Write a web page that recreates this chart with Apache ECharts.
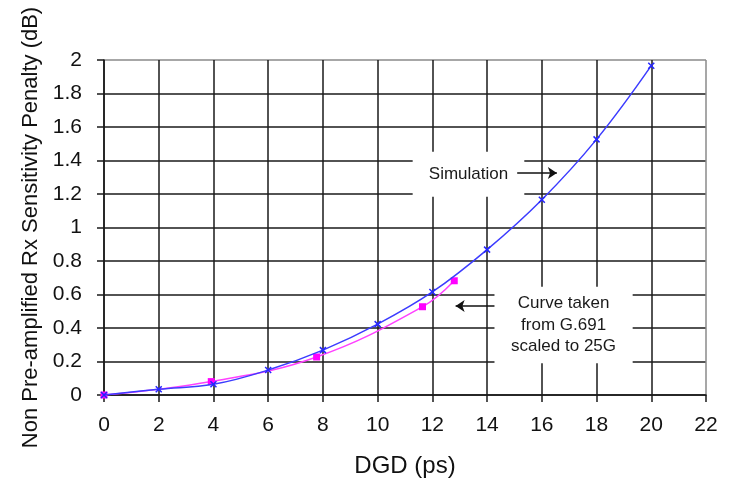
<!DOCTYPE html>
<html>
<head>
<meta charset="utf-8">
<script src="https://cdn.jsdelivr.net/npm/echarts@6/dist/echarts.min.js"></script>
<style>
  html, body { margin: 0; padding: 0; background: #fff; }
  #chart { width: 733px; height: 486px; }
</style>
</head>
<body>
<div id="chart"></div>
<script>
// DGD (ps) vs. receiver sensitivity penalty (dB)
const simDGD = [0, 2, 4, 6, 8, 10, 12, 14, 16, 18, 20];
const simPenalty = [0, 0.034, 0.064, 0.149, 0.268, 0.423, 0.615, 0.868, 1.166, 1.526, 1.966];

const g691DGD = [0, 3.92, 7.77, 11.64, 12.8];
const g691Penalty = [0, 0.08, 0.227, 0.527, 0.682];

const xTicks = { min: 0, max: 22, step: 2 };
const yTicks = { min: 0, max: 2, step: 0.2 };

// Annotation boxes (data coordinates) and their arrows
const simNote = { text: 'Simulation', box: [[11.28, 1.452], [15.36, 1.184]], arrow: [[15.1, 1.325], [16.55, 1.325]] };
const g691Note = { text: 'Curve taken\nfrom G.691\nscaled to 25G', box: [[14.27, 0.647], [19.32, 0.189]], arrow: [[14.27, 0.531], [12.85, 0.531]] };

const FONT = 'Liberation Sans, Arial, sans-serif';
const pair = arr => arr[0].map((_, i) => [arr[0][i], arr[1][i]]);

// inner grid lines dark, outer frame (top / right) lighter grey
function lineColors(t) {
  const n = Math.round((t.max - t.min) / t.step) + 1;
  return Array.from({ length: n }, (_, i) => (i === n - 1 ? '#8a8a8a' : '#1a1a1a'));
}

const chart = echarts.init(document.getElementById('chart'), null, { renderer: 'canvas' });

chart.setOption({
  backgroundColor: '#ffffff',
  animation: false,
  grid: { left: 104, right: 27, top: 60, bottom: 91, containLabel: false },
  xAxis: {
    type: 'value',
    min: xTicks.min, max: xTicks.max, interval: xTicks.step,
    name: 'DGD (ps)', nameLocation: 'middle', nameGap: 59,
    nameTextStyle: { fontFamily: FONT, fontSize: 24, color: '#111' },
    axisLine: { show: true, lineStyle: { color: '#1a1a1a', width: 1.5 } },
    axisTick: { show: true, inside: false, length: 7, lineStyle: { color: '#1a1a1a', width: 1.5 } },
    axisLabel: { fontFamily: FONT, fontSize: 21, color: '#111', margin: 20 },
    splitLine: { show: true, lineStyle: { color: lineColors(xTicks), width: 1.5 } }
  },
  yAxis: {
    type: 'value',
    min: yTicks.min, max: yTicks.max, interval: yTicks.step,
    name: 'Non Pre-amplified Rx Sensitivity Penalty (dB)', nameLocation: 'middle', nameGap: 61,
    nameTextStyle: { fontFamily: FONT, fontSize: 22, color: '#111' },
    axisLine: { show: true, lineStyle: { color: '#1a1a1a', width: 1.5 } },
    axisTick: { show: true, inside: false, length: 7, lineStyle: { color: '#1a1a1a', width: 1.5 } },
    axisLabel: { fontFamily: FONT, fontSize: 21, color: '#111', margin: 22,
      formatter: v => String(Math.round(v * 10) / 10) },
    splitLine: { show: true, lineStyle: { color: lineColors(yTicks), width: 1.5 } }
  },
  series: [
    {
      name: 'Simulation',
      type: 'line',
      data: pair([simDGD, simPenalty]),
      smooth: 0.4,
      symbol: 'path://M0,0L10,10M10,0L0,10',
      symbolSize: 6,
      showSymbol: true,
      lineStyle: { color: '#3c3cff', width: 1.5 },
      itemStyle: { color: '#2626ff', borderColor: '#2626ff', borderWidth: 1.5 },
      z: 5,
      markArea: {
        silent: true,
        itemStyle: { color: '#ffffff' },
        label: { show: true, position: 'inside', fontFamily: FONT, fontSize: 17, color: '#1a1a1a', lineHeight: 21.5 },
        data: [
          [{ name: simNote.text, coord: simNote.box[0] }, { coord: simNote.box[1] }],
          [{ name: g691Note.text, coord: g691Note.box[0] }, { coord: g691Note.box[1] }]
        ]
      },
      markLine: {
        silent: true,
        symbol: ['none', 'arrow'],
        symbolSize: [9, 9],
        label: { show: false },
        lineStyle: { color: '#111', width: 1.5, type: 'solid' },
        data: [
          [{ coord: simNote.arrow[0] }, { coord: simNote.arrow[1] }],
          [{ coord: g691Note.arrow[0] }, { coord: g691Note.arrow[1] }]
        ]
      }
    },
    {
      name: 'G.691',
      type: 'line',
      data: pair([g691DGD, g691Penalty]),
      smooth: 0.4,
      symbol: 'rect',
      symbolSize: 7,
      showSymbol: true,
      lineStyle: { color: '#ff40ff', width: 1.5 },
      itemStyle: { color: '#ff00ff' },
      z: 4
    }
  ]
});
</script>
</body>
</html>
